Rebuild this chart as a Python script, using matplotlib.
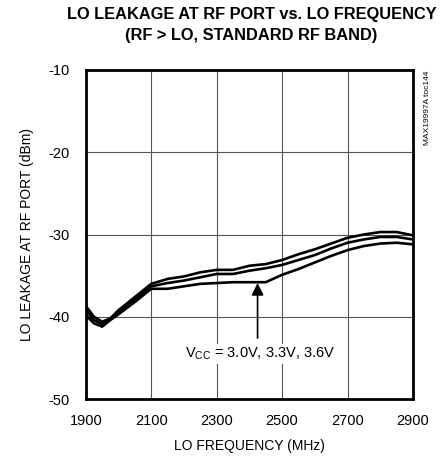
import numpy as np
import matplotlib
matplotlib.use('Agg')
import matplotlib.pyplot as plt

# =============================================================================
# Data
# =============================================================================

freq = [1900, 1925, 1950, 1975, 2000, 2050, 2100, 2150, 2200, 2250, 2300, 2350,
        2400, 2450, 2500, 2550, 2600, 2650, 2700, 2750, 2800, 2850, 2900]

leak_top = [-38.7, -40.0, -40.6, -40.2, -39.2, -37.6, -36.0, -35.4, -35.1, -34.6, -34.3, -34.3,
            -33.8, -33.6, -33.1, -32.4, -31.8, -31.1, -30.4, -30.0, -29.7, -29.7, -30.1]
leak_mid = [-39.2, -40.4, -40.9, -40.3, -39.5, -37.9, -36.3, -35.9, -35.6, -35.2, -34.8, -34.8,
            -34.4, -34.1, -33.7, -33.1, -32.5, -31.7, -31.0, -30.6, -30.3, -30.3, -30.6]
leak_bot = [-39.8, -40.8, -41.2, -40.4, -39.7, -38.2, -36.6, -36.6, -36.3, -36.0, -35.9, -35.8,
            -35.8, -35.8, -34.9, -34.2, -33.4, -32.6, -31.9, -31.4, -31.1, -31.0, -31.2]

xticks = [1900, 2100, 2300, 2500, 2700, 2900]
yticks = [-50, -40, -30, -20, -10]

plt.rcParams['font.family'] = ['Liberation Sans', 'DejaVu Sans']
plt.rcParams['axes.unicode_minus'] = False

# =============================================================================
# Plot
# =============================================================================

fig = plt.figure(figsize=(4.4, 4.59), dpi=100)
ax = fig.add_axes([0.195, 0.1307, 0.7436, 0.7168])

for ys in [leak_top, leak_mid, leak_bot]:
    ax.plot(freq, ys, color='k', lw=1.9, solid_joinstyle='round', zorder=3)

ax.set_xlim(1900, 2900)
ax.set_ylim(-50, -10)
ax.set_xticks(xticks)
ax.set_yticks(yticks)
ax.tick_params(length=0, labelsize=10.5)
ax.tick_params(axis='y', pad=12)
ax.tick_params(axis='x', pad=11)
ax.grid(True, color='#555555', lw=0.8)
ax.set_axisbelow(True)
for s in ax.spines.values():
    s.set_linewidth(2.0)

ax.set_xlabel('LO FREQUENCY (MHz)', fontsize=10, labelpad=8)
ax.set_ylabel('LO LEAKAGE AT RF PORT (dBm)', fontsize=10, labelpad=10)

fig.text(0.572, 0.985, 'LO LEAKAGE AT RF PORT vs. LO FREQUENCY\n(RF > LO, STANDARD RF BAND)',
         ha='center', va='top', fontsize=11.8, fontweight='bold', linespacing=1.55)

# arrow pointing to the curves
ax.annotate('', xy=(2425, -35.9), xytext=(2425, -42.6),
            arrowprops=dict(arrowstyle='-|>', color='k', lw=1.2,
                            mutation_scale=18, shrinkA=0, shrinkB=0))
ax.text(2432, -44.5, r'V$_{\mathregular{CC}}$ = 3.0V, 3.3V, 3.6V', ha='center', va='center',
        fontsize=10.5, bbox=dict(facecolor='white', edgecolor='none', pad=1))

fig.text(0.972, 0.847, 'MAX19997A toc144', rotation=90, ha='center', va='top', fontsize=6)

fig.savefig('out.png', dpi=100)
